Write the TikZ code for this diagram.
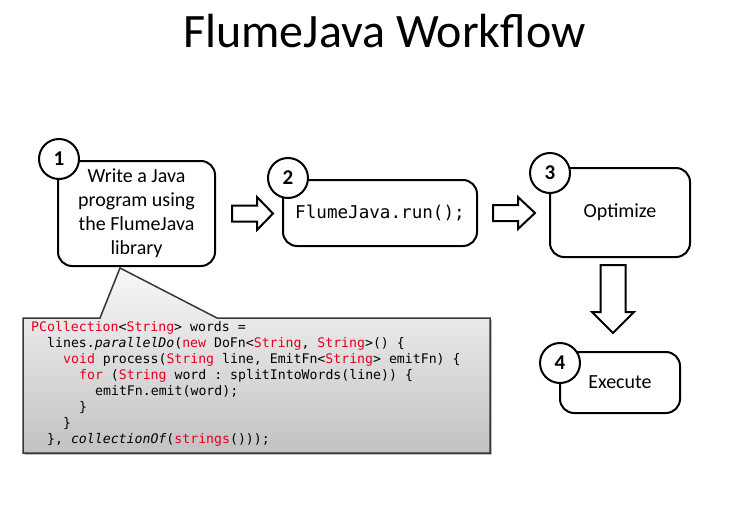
\documentclass[tikz,border=0pt]{standalone}
\usepackage{fontspec}
\setmainfont{Carlito}
\setmonofont{DejaVu Sans Mono}
\definecolor{kwred}{RGB}{228,0,27}
\definecolor{callborder}{RGB}{55,55,55}
\newcommand\kwd[1]{\textcolor{kwred}{#1}}
\begin{document}
\begin{tikzpicture}[x=1pt,y=-1pt,
  stepbox/.style={draw, line width=2pt, rounded corners=14pt, fill=white, inner sep=0pt, align=center},
  numcirc/.style={draw, line width=2pt, circle, fill=white, minimum size=40pt, inner sep=0pt, font=\fontsize{21}{24}\selectfont\bfseries},
  blockarrow/.style={draw, line width=2pt, fill=white, line join=miter},
  codeline/.style={anchor=base west, inner sep=0pt, font=\ttfamily\fontsize{13.2}{16}\selectfont},
  boxtext/.style={font=\fontsize{20}{24}\selectfont}]
\useasboundingbox (0,0) rectangle (753,511);

\node[anchor=base, inner sep=0pt, font=\fontsize{48}{52}\selectfont] (title) at (384.5,47.5) {FlumeJava Workflow};

% callout
\fill[black, opacity=0.25] (25,320) -- (492,320) -- (492,455) -- (25,455) -- cycle;
\shade[top color=gray!6, bottom color=gray!48, draw=callborder, line width=1.5pt, line join=miter]
  (23,318) -- (100,318) -- (120,268) -- (217,318) -- (490,318) -- (490,453) -- (23,453) -- cycle;

\node[codeline] (code1) at (31,331) {\kwd{PCollection}<\kwd{String}> words =};
\node[codeline] (code2) at (47,347) {lines.\textit{parallelDo}(\kwd{new} DoFn<\kwd{String}, \kwd{String}>() \{};
\node[codeline] (code3) at (63,363) {\kwd{void} process(\kwd{String} line, EmitFn<\kwd{String}> emitFn) \{};
\node[codeline] (code4) at (79,379) {\kwd{for} (\kwd{String} word : splitIntoWords(line)) \{};
\node[codeline] (code5) at (95,395) {emitFn.emit(word);};
\node[codeline] (code6) at (79,411) {\}};
\node[codeline] (code7) at (63,427) {\}};
\node[codeline] (code8) at (47,443) {\}, \textit{collectionOf}(\kwd{strings}()));};

% boxes
\node[stepbox, boxtext, minimum width=157pt, minimum height=105pt] (box1) at (136.5,213.5)
  {Write a Java\\program using\\the FlumeJava\\library};
\node[stepbox, minimum width=194pt, minimum height=66pt, font=\ttfamily\fontsize{17.6}{20}\selectfont] (box2) at (380,213) {FlumeJava.run();};
\node[stepbox, boxtext, minimum width=140pt, minimum height=89pt] (box3) at (620,212.5) {Optimize};
\node[stepbox, boxtext, minimum width=120pt, minimum height=61pt] (box4) at (620,382.5) {Execute};

% circles
\node[numcirc] (n1) at (59,159) {1};
\node[numcirc] (n2) at (288,178) {2};
\node[numcirc] (n3) at (550,173) {3};
\node[numcirc] (n4) at (560,363) {4};

% block arrows
\draw[blockarrow] (232,205.5) -- (257,205.5) -- (257,197) -- (273,213.5) -- (257,230) -- (257,221.5) -- (232,221.5) -- cycle;
\draw[blockarrow] (493,205) -- (518,205) -- (518,197) -- (535,213) -- (518,229) -- (518,221) -- (493,221) -- cycle;
\draw[blockarrow] (600.5,265) -- (625.5,265) -- (625.5,312) -- (634,312) -- (613,333) -- (592,312) -- (600.5,312) -- cycle;
\end{tikzpicture}
\end{document}
